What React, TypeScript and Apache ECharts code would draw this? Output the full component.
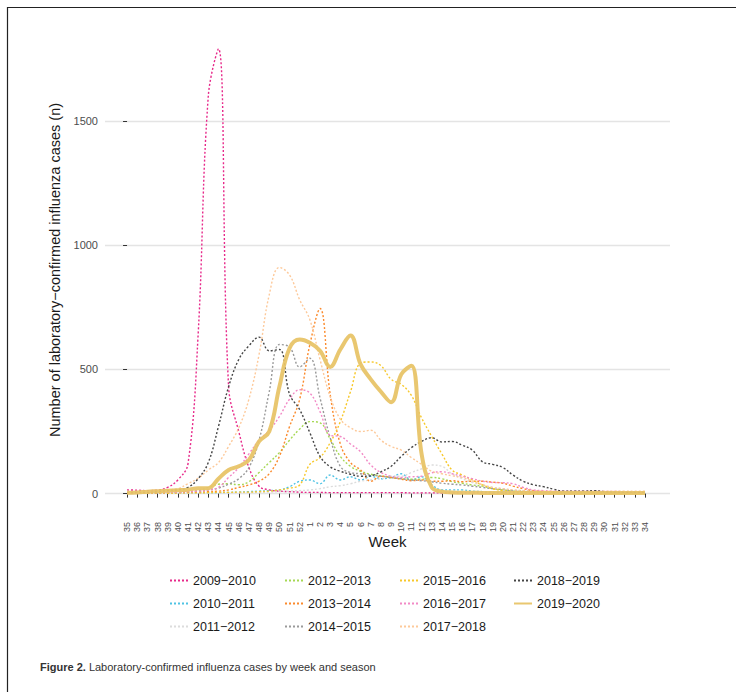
import React, { useEffect, useRef } from "react";
import * as echarts from "echarts";

const weeks = [
  "35","36","37","38","39","40","41","42","43","44","45","46","47","48","49","50","51","52",
  "1","2","3","4","5","6","7","8","9","10","11","12","13","14","15","16","17","18","19","20",
  "21","22","23","24","25","26","27","28","29","30","31","32","33","34",
];

const yTicks = [0, 500, 1000, 1500];

const seasons = [
  "2009−2010","2010−2011","2011−2012","2012−2013","2013−2014","2014−2015",
  "2015−2016","2016−2017","2017−2018","2018−2019","2019−2020",
];

const s2009 = [15,14,12,14,25,55,120,640,1600,1790, 430,250,105,30,15,10,8,6,5,5, 4,4,4,4,4,4,4,4,3,3, 3,3,3,3,3,3,3,3,3,3, 3,3,3,3,3,3,3,3,3,3, 3,3];
const s2010 = [2,2,2,2,2,2,2,3,3,4, 5,6,8,10,12,15,28,50,55,40, 75,55,68,55,70,60,65,80,55,68, 35,15,15,15,10,8,6,5,4,3, 3,3,2,2,2,2,2,2,2,2, 2,2];
const s2011 = [2,2,2,2,2,2,2,2,3,3, 3,4,4,5,6,8,10,12,15,20, 28,32,40,50,55,60,70,70,85,100, 115,110,80,60,45,35,25,20,15,12, 10,8,6,5,4,4,3,3,3,3, 3,3];
const s2012 = [2,2,2,3,4,5,8,12,25,38, 40,36,48,85,125,165,215,260,290,285, 220,150,110,90,78,72,65,60,58,58, 65,60,48,42,35,30,20,15,10,8, 6,5,4,4,3,3,3,3,3,3, 3,3];
const s2013 = [2,2,2,3,3,4,5,6,8,10, 15,25,35,50,80,150,270,380,600,745, 400,200,125,95,50,70,65,58,52,55, 50,50,52,48,50,50,46,42,30,20, 12,8,6,5,4,4,3,3,3,3, 3,3];
const s2014 = [3,3,4,4,5,6,8,10,15,22, 38,60,105,215,410,600,590,510,545,385, 225,110,85,80,75,70,65,60,55,52, 48,42,38,35,30,25,20,16,12,10, 8,6,5,4,4,3,3,3,3,3, 3,3];
const s2015 = [2,2,2,2,2,3,3,3,4,5, 5,6,6,8,10,15,22,35,118,145, 205,290,410,525,530,515,460,440,395,305, 230,160,95,75,55,35,20,12,8,5, 4,3,3,3,3,3,2,2,2,2, 2,2];
const s2016 = [3,3,4,4,5,6,8,10,15,25, 65,105,160,215,255,310,380,418,405,330, 235,230,200,168,115,85,70,65,68,70, 84,88,80,70,60,50,45,44,40,25, 15,12,10,10,10,10,10,9,9,8, 8,8];
const s2017 = [5,5,8,10,15,20,40,62,95,125, 190,265,380,560,800,910,880,780,700,540, 390,300,265,250,255,215,190,175,145,118, 90,80,72,65,50,36,25,20,15,12, 10,10,10,10,10,10,10,10,10,10, 10,10];
const s2018 = [3,5,5,8,12,15,25,60,125,270, 430,540,595,630,575,580,400,338,245,150, 108,90,78,70,72,88,110,150,185,210, 225,208,210,195,175,128,118,105,75,50, 36,28,18,10,10,10,12,8,6,5, 5,5];
const s2019 = [4,5,8,10,12,14,16,22,22,60, 95,110,135,210,250,430,585,620,607,575, 510,580,636,520,460,410,368,480,515,160, 25,8,5,4,4,3,3,3,3,3, 3,3,3,3,3,3,3,3,3,3, 3,3];

const seriesValues = [s2009, s2010, s2011, s2012, s2013, s2014, s2015, s2016, s2017, s2018, s2019];

const colors = [
  "#e7298a","#4fc3e4","#dcdcdc","#a6d854","#fb8a2c","#9a9a9a",
  "#f7c82a","#f28ac6","#fdc99a","#454545","#e8c468",
];

const legendCols = [
  ["2009−2010","2010−2011","2011−2012"],
  ["2012−2013","2013−2014","2014−2015"],
  ["2015−2016","2016−2017","2017−2018"],
  ["2018−2019","2019−2020"],
];
const legendLeft = [164, 279, 394, 508];

export default function App() {
  const ref = useRef<HTMLDivElement>(null);
  useEffect(() => {
    if (!ref.current) return;
    const chart = echarts.init(ref.current, undefined, { renderer: "svg" });
    const idx = weeks.map((_, i) => i);
    const font = "Liberation Sans, Arial, Helvetica, sans-serif";
    const series = seasons.map((name, k) => {
      const last = k === seasons.length - 1;
      return {
        name,
        type: "line",
        data: seriesValues[k].map((v, i) => [i, v]),
        smooth: 0.4,
        symbol: "none",
        lineStyle: last
          ? { color: colors[k], width: 4, type: "solid", opacity: 0.95 }
          : { color: colors[k], width: 1.4, type: [2, 2] },
        itemStyle: { color: colors[k] },
        z: last ? 3 : 2,
      };
    });
    chart.setOption({
      animation: false,
      backgroundColor: "#ffffff",
      textStyle: { fontFamily: font },
      grid: { left: 105, right: 66, top: 24, bottom: 176 },
      xAxis: {
        type: "value",
        min: -2.17,
        max: 53.46,
        name: "Week",
        nameLocation: "middle",
        nameGap: 18,
        nameMoveOverlap: false,
        nameTextStyle: { fontSize: 15, color: "#1a1a1a", fontFamily: font },
        axisLine: { show: false },
        splitLine: { show: false },
        axisTick: { show: true, customValues: idx, length: 4, lineStyle: { color: "#333", width: 1 } },
        axisLabel: {
          customValues: idx,
          rotate: 90,
          fontSize: 9,
          color: "#4d4d4d",
          margin: 6,
          fontFamily: font,
          formatter: (v: number) => weeks[Math.round(v)] ?? "",
        },
      },
      yAxis: {
        type: "value",
        min: -90,
        max: 1890,
        name: "Number of laboratory−confirmed influenza cases (n)",
        nameLocation: "middle",
        nameGap: 43,
        nameMoveOverlap: false,
        nameTextStyle: { fontSize: 14.5, color: "#1a1a1a", fontFamily: font },
        axisLine: { show: false },
        axisTick: { show: true, customValues: yTicks, length: 4, lineStyle: { color: "#333", width: 1 } },
        axisLabel: {
          customValues: yTicks,
          fontSize: 11,
          color: "#4d4d4d",
          margin: 7,
          fontFamily: font,
          formatter: (v: number) => String(v),
        },
        splitLine: { show: true, lineStyle: { color: "#e4e4e4", width: 1.3 } },
      },
      legend: legendCols.map((names, c) => ({
        data: names,
        orient: "vertical",
        left: legendLeft[c],
        top: 569,
        itemWidth: 18,
        itemHeight: 12,
        itemGap: 10,
        itemStyle: { opacity: 0 },
        textStyle: { fontSize: 12.5, color: "#1a1a1a", fontFamily: font, padding: [0, 0, 0, 0] },
      })),
      graphic: [
        {
          type: "rect",
          shape: { x: 7.5, y: 7.5, width: 900, height: 900 },
          style: { fill: "none", stroke: "#222", lineWidth: 1.2 },
          silent: true,
        },
        {
          type: "text",
          left: 40,
          top: 661,
          style: {
            text: "{b|Figure 2.} Laboratory-confirmed influenza cases by week and season",
            fontSize: 11,
            fill: "#333",
            fontFamily: font,
            rich: { b: { fontWeight: "bold", fontSize: 11, fill: "#333", fontFamily: font } },
          },
        },
      ],
      series,
    });
    return () => chart.dispose();
  }, []);
  return (
    <div
      ref={ref}
      style={{ position: "fixed", left: 0, top: 0, width: 736, height: 692, background: "#fff" }}
    />
  );
}
